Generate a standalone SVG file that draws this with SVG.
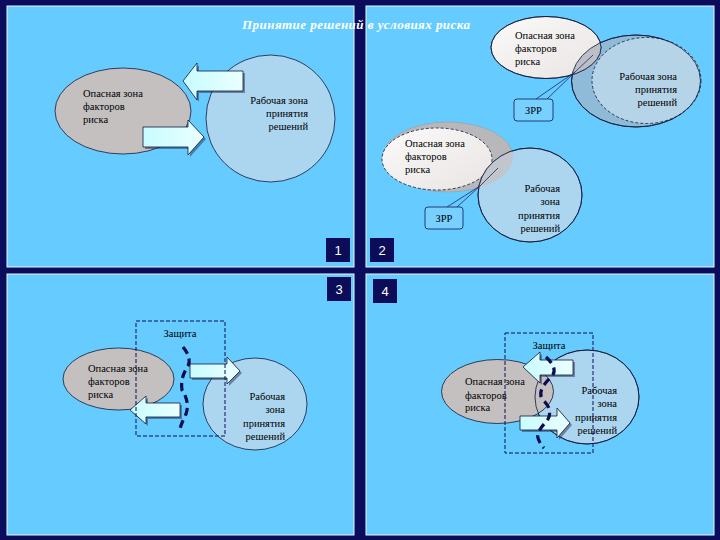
<svg xmlns="http://www.w3.org/2000/svg" width="720" height="540" viewBox="0 0 720 540">
<defs>
<style>
.panel{fill:#66ccff;stroke:#e6f6ff;stroke-width:1}
.num{fill:#0c0c58}
.numt{fill:#ffffff;font-family:"Liberation Sans",Arial,sans-serif;font-size:13px;text-anchor:middle}
.t{font-family:"Liberation Serif","Times New Roman",serif;font-size:10.5px;fill:#000}
.r{text-anchor:end}
.gray{fill:#c4c0c0;stroke:#10183a;stroke-width:0.8}
.circ{fill:#acd6ef;stroke:#10183a;stroke-width:0.8}
.light{fill:url(#lg);stroke:#10183a;stroke-width:0.8}
.outl{fill:none;stroke:#10183a;stroke-width:0.8}
.arrow{fill:url(#ag);stroke:#10183a;stroke-width:0.8}
.ash{fill:#26305a;opacity:0.5}
.prot{fill:none;stroke:#0c0c58;stroke-width:1;stroke-dasharray:4 2}
.thick{fill:none;stroke:#0c0c50;stroke-width:3.2;stroke-dasharray:8 5}
.call{fill:#78d0ff;stroke:#1a2a6a;stroke-width:0.9}
.cl{fill:none;stroke:#1a2a6a;stroke-width:0.8}
</style>
<linearGradient id="lg" x1="0" y1="0" x2="1" y2="1">
<stop offset="0" stop-color="#fbfafa"/>
<stop offset="1" stop-color="#e8e4e2"/>
</linearGradient>
<linearGradient id="ag" x1="0" y1="0" x2="1" y2="0">
<stop offset="0" stop-color="#c8fcff"/>
<stop offset="1" stop-color="#eaffff"/>
</linearGradient>
<clipPath id="c2a"><ellipse cx="546" cy="47.5" rx="55" ry="31"/></clipPath>
<clipPath id="c2b"><ellipse cx="448" cy="157" rx="65" ry="35"/></clipPath>
</defs>

<rect x="0" y="0" width="720" height="540" fill="#0c0c5c"/>

<g id="panels">
<rect class="panel" x="7" y="6" width="347" height="261"/>
<rect class="panel" x="366" y="6" width="348" height="261"/>
<rect class="panel" x="7" y="274" width="347" height="261"/>
<rect class="panel" x="366" y="274" width="348" height="261"/>
</g>

<g id="title">
<text x="242" y="29" textLength="228" font-family="'Liberation Serif','Times New Roman',serif" font-size="13" font-weight="bold" font-style="italic" fill="#ffffff">Принятие решений в условиях риска</text>
</g>

<g id="labels">
<rect class="num" x="326" y="238" width="24" height="24"/><text class="numt" x="338" y="255">1</text>
<rect class="num" x="370" y="238" width="24" height="24"/><text class="numt" x="382" y="255">2</text>
<rect class="num" x="327" y="277" width="24" height="24"/><text class="numt" x="339" y="294">3</text>
<rect class="num" x="373" y="279" width="24" height="24"/><text class="numt" x="385" y="296">4</text>
</g>

<!-- Panel 1 -->
<g id="p1-danger">
<ellipse class="gray" cx="123" cy="111" rx="68" ry="43"/>
<text class="t" x="83" y="97">Опасная зона</text>
<text class="t" x="83" y="110">факторов</text>
<text class="t" x="83" y="123">риска</text>
</g>
<g id="p1-work">
<ellipse class="circ" cx="270.5" cy="118.5" rx="64.5" ry="63.5"/>
<text class="t r" x="308" y="104">Рабочая зона</text>
<text class="t r" x="308" y="117">принятия</text>
<text class="t r" x="308" y="130">решений</text>
</g>
<g id="p1-arrows">
<polygon class="ash" points="185,83 199,65 199,73 245,73 245,93 199,93 199,102"/>
<polygon class="arrow" points="183,81 197,63 197,71 243,71 243,91 197,91 197,100"/>
<polygon class="ash" points="145,129 190,129 190,122 206,139 190,157 190,149 145,149"/>
<polygon class="arrow" points="143,127 188,127 188,120 204,137 188,155 188,147 143,147"/>
</g>

<!-- Panel 2 top -->
<g id="p2-work-top">
<ellipse cx="636" cy="81" rx="64.5" ry="46" fill="#8fbad8" stroke="#10183a" stroke-width="0.8"/>
<ellipse cx="646.5" cy="80.5" rx="54.5" ry="43" fill="#b6d4e8" stroke="#10183a" stroke-width="0.8" stroke-dasharray="3 2"/>
</g>
<g id="p2-danger-top">
<ellipse class="light" cx="546" cy="47.5" rx="55" ry="31"/>
<g clip-path="url(#c2a)"><ellipse cx="636" cy="81" rx="64.5" ry="46" fill="#bcc0c6"/></g>
<ellipse class="outl" cx="636" cy="81" rx="64.5" ry="46"/>
<ellipse class="outl" cx="546" cy="47.5" rx="55" ry="31"/>
<text class="t" x="515" y="39">Опасная зона</text>
<text class="t" x="515" y="52">факторов</text>
<text class="t" x="515" y="65">риска</text>
<text class="t r" x="677" y="80">Рабочая зона</text>
<text class="t r" x="677" y="93">принятия</text>
<text class="t r" x="677" y="106">решений</text>
</g>

<!-- Panel 2 bottom -->
<g id="p2-danger-bottom">
<ellipse cx="448" cy="157" rx="65" ry="35" fill="#b8b8ba" stroke="#9a9aa0" stroke-width="0.6"/>
<ellipse cx="437" cy="159" rx="55" ry="31" fill="url(#lg)" stroke="#10183a" stroke-width="0.8" stroke-dasharray="3 2"/>
<text class="t" x="405" y="147">Опасная зона</text>
<text class="t" x="405" y="160">факторов</text>
<text class="t" x="405" y="173">риска</text>
</g>
<g id="p2-work-bottom">
<ellipse class="circ" cx="530" cy="195" rx="52" ry="47"/>
<g clip-path="url(#c2b)"><ellipse cx="530" cy="195" rx="52" ry="47" fill="#c0c6cc"/></g>
<ellipse class="outl" cx="530" cy="195" rx="52" ry="47"/>
<text class="t r" x="560" y="192">Рабочая</text>
<text class="t r" x="560" y="205">зона</text>
<text class="t r" x="560" y="219">принятия</text>
<text class="t r" x="560" y="232">решений</text>
</g>

<g id="connectors">
<path class="cl" d="M536,99 L575,72 L593,55 M547,99 L575,72"/>
<path class="cl" d="M447,207 L480,186 L498,168 M457,207 L480,186"/>
</g>

<g id="p2-zrr-top">
<rect class="call" x="514" y="99" width="39" height="22" rx="3"/>
<text class="t" x="533.5" y="114" text-anchor="middle">ЗРР</text>
</g>
<g id="p2-zrr-bottom">
<rect class="call" x="425" y="207" width="38" height="22" rx="3"/>
<text class="t" x="444" y="222" text-anchor="middle">ЗРР</text>
</g>

<!-- Panel 3 -->
<g id="p3-danger">
<ellipse class="gray" cx="118.5" cy="379" rx="55.5" ry="31"/>
<text class="t" x="88" y="372">Опасная зона</text>
<text class="t" x="88" y="385">факторов</text>
<text class="t" x="88" y="398">риска</text>
</g>
<g id="p3-work">
<ellipse class="circ" cx="255" cy="404" rx="52" ry="46"/>
<text class="t r" x="285" y="400">Рабочая</text>
<text class="t r" x="285" y="413">зона</text>
<text class="t r" x="285" y="427">принятия</text>
<text class="t r" x="285" y="440">решений</text>
</g>
<g id="p3-arrows">
<polygon class="ash" points="192,366 229,366 229,359 242,373 229,386 229,380 192,380"/>
<polygon class="arrow" points="190,364 227,364 227,357 240,371 227,384 227,378 190,378"/>
<polygon class="ash" points="132,412 148,398 148,405 182,405 182,419 148,419 148,426"/>
<polygon class="arrow" points="130,410 146,396 146,403 180,403 180,417 146,417 146,424"/>
</g>
<g id="p3-protection">
<rect class="prot" x="136" y="321" width="89" height="115"/>
<text class="t" x="180" y="337" text-anchor="middle">Защита</text>
<path class="thick" d="M183,347 Q192,358 188,366 Q180,378 182,390 Q190,402 186,414 Q181,424 179,432"/>
</g>

<!-- Panel 4 -->
<g id="p4-work">
<ellipse class="circ" cx="587" cy="397" rx="52" ry="47"/>
</g>
<g id="p4-danger">
<ellipse class="gray" cx="497.5" cy="391.5" rx="56" ry="32"/>
<ellipse class="outl" cx="587" cy="397" rx="52" ry="47"/>
<text class="t" x="465" y="385">Опасная зона</text>
<text class="t" x="465" y="399">факторов</text>
<text class="t" x="465" y="411">риска</text>
<text class="t r" x="617" y="394">Рабочая</text>
<text class="t r" x="617" y="407">зона</text>
<text class="t r" x="617" y="421">принятия</text>
<text class="t r" x="617" y="434">решений</text>
</g>
<g id="p4-arrows">
<polygon class="ash" points="525,369 542,354 542,362 575,362 575,377 542,377 542,385"/>
<polygon class="arrow" points="523,367 540,352 540,360 573,360 573,375 540,375 540,383"/>
<polygon class="ash" points="522,418 559,418 559,410 572,425 559,440 559,432 522,432"/>
<polygon class="arrow" points="520,416 557,416 557,408 570,423 557,438 557,430 520,430"/>
</g>
<g id="p4-protection">
<rect class="prot" x="505" y="333" width="88" height="120"/>
<text class="t" x="549" y="349" text-anchor="middle">Защита</text>
<path class="thick" d="M546,357 Q560,370 550,378 Q536,392 543,400 Q554,410 547,421 Q536,432 538,438 Q540,444 544,448"/>
</g>
</svg>
